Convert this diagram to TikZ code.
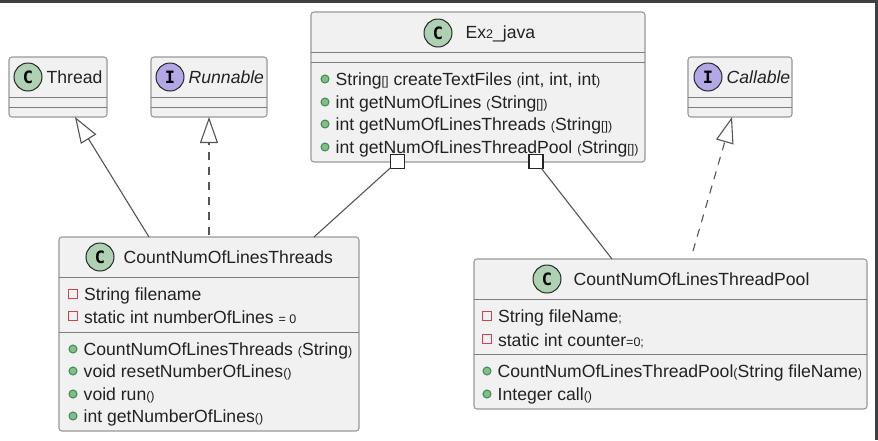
\documentclass[tikz,border=0pt]{standalone}
\usepackage{fontspec}
\setmainfont{Liberation Sans}
\newfontfamily\badgefont{DejaVu Sans Mono}
\usepackage{tikz}
\usetikzlibrary{positioning,arrows.meta}
\definecolor{boxfill}{RGB}{241,241,241}
\definecolor{boxline}{RGB}{153,153,153}
\definecolor{sepline}{RGB}{125,125,125}
\definecolor{edgeline}{RGB}{85,85,85}
\definecolor{txt}{RGB}{34,34,34}
\definecolor{clsfill}{RGB}{173,209,178}
\definecolor{ifcfill}{RGB}{180,167,229}
\definecolor{pubfill}{RGB}{132,190,132}
\definecolor{publine}{RGB}{56,138,86}
\definecolor{prvline}{RGB}{206,66,82}
\definecolor{barcol}{RGB}{60,64,67}
\newcommand{\sm}[1]{{\fontsize{12.5}{12.5}\selectfont #1}}
\begin{document}
\begin{tikzpicture}[x=1pt,y=-1pt,font=\fontsize{17.6}{20}\selectfont,text=txt,node distance=4pt and 6pt,
  cls/.style={draw=boxline,line width=1.1pt,rounded corners=3pt,fill=boxfill,inner sep=0pt,outer sep=0pt,anchor=north west},
  badge/.style={draw=black!85,line width=1pt,circle,minimum size=28pt,inner sep=0pt,font=\fontsize{17}{17}\selectfont\badgefont\bfseries,text=black},
  cbadge/.style={badge,fill=clsfill},
  ibadge/.style={badge,fill=ifcfill},
  pub/.style={draw=publine,fill=pubfill,line width=1pt,circle,minimum size=8pt,inner sep=0pt},
  prv/.style={draw=prvline,fill=boxfill,line width=1.1pt,rectangle,minimum size=8.6pt,inner sep=0pt},
  mem/.style={inner sep=0pt,anchor=west,yshift=-1.5pt},
  ttl/.style={inner sep=0pt,anchor=west,yshift=-0.5pt},
  sep/.style={draw=sepline,line width=1pt},
  sq/.style={draw=black!85,fill=white,line width=1.7pt,rectangle,minimum size=14pt,inner sep=0pt,outer sep=0pt},
  gen/.style={draw=edgeline,line width=1.1pt,-{Triangle[open,fill=white,length=26pt,width=18pt,line width=1.1pt]}},
  real/.style={gen,dash pattern=on 8pt off 7pt},
  comp/.style={draw=edgeline,line width=1.1pt}]
  \fill[white] (0,0) rectangle (878,440);
  \fill[barcol] (0,0) rectangle (878,3);
  \fill[barcol] (875,0) rectangle (878,440);
  % top row
  \node[cls,minimum width=98pt,minimum height=60pt] (thread) at (9,57) {};
  \node[cls,minimum width=116pt,minimum height=60pt] (runnable) at (151,57) {};
  \node[cls,minimum width=334pt,minimum height=150pt] (ex) at (311,12) {};
  \node[cls,minimum width=104pt,minimum height=60pt] (callable) at (688,57) {};
  % bottom row
  \node[cls,minimum width=300pt,minimum height=194pt] (lines) at (59,237) {};
  \node[cls,minimum width=393pt,minimum height=150pt] (pool) at (474,259) {};
  % compartments
  \draw[sep] ([yshift=-40pt]thread.north west)--([yshift=-40pt]thread.north east);
  \draw[sep] ([yshift=-50pt]thread.north west)--([yshift=-50pt]thread.north east);
  \draw[sep] ([yshift=-40pt]runnable.north west)--([yshift=-40pt]runnable.north east);
  \draw[sep] ([yshift=-50pt]runnable.north west)--([yshift=-50pt]runnable.north east);
  \draw[sep] ([yshift=-40pt]ex.north west)--([yshift=-40pt]ex.north east);
  \draw[sep] ([yshift=-50pt]ex.north west)--([yshift=-50pt]ex.north east);
  \draw[sep] ([yshift=-40pt]callable.north west)--([yshift=-40pt]callable.north east);
  \draw[sep] ([yshift=-50pt]callable.north west)--([yshift=-50pt]callable.north east);
  \draw[sep] ([yshift=-40pt]lines.north west)--([yshift=-40pt]lines.north east);
  \draw[sep] ([yshift=-95pt]lines.north west)--([yshift=-95pt]lines.north east);
  \draw[sep] ([yshift=-40pt]pool.north west)--([yshift=-40pt]pool.north east);
  \draw[sep] ([yshift=-95pt]pool.north west)--([yshift=-95pt]pool.north east);
  % titles
  \node[cbadge] (threadc) at (28,77) {C};
  \node[ttl,right=4pt of threadc] (threadt) {Thread};
  \node[ibadge] (runnablec) at (170,77) {I};
  \node[ttl,right=4pt of runnablec] (runnablet) {\textit{Runnable}};
  \node[cbadge] (exc) at (438,33) {C};
  \node[ttl,right=13pt of exc] (ext) {Ex\sm{2}\_java};
  \node[ibadge] (callablec) at (708,77) {I};
  \node[ttl,right=4pt of callablec] (callablet) {\textit{Callable}};
  \node[cbadge] (linesc) at (100,257) {C};
  \node[ttl,right=9pt of linesc] (linest) {CountNumOfLinesThreads};
  \node[cbadge] (poolc) at (547,279) {C};
  \node[ttl,right=12pt of poolc] (poolt) {CountNumOfLinesThreadPool};
  % Ex2_java methods
  \node[pub] (ex1) at (325,79) {};
  \node[mem,right=of ex1] {String\sm{[]} createTextFiles \sm{(}int, int, int\sm{)}};
  \node[pub] (ex2) at (325,102) {};
  \node[mem,right=of ex2] {int getNumOfLines \sm{(}String\sm{[])}};
  \node[pub] (ex3) at (325,124) {};
  \node[mem,right=of ex3] {int getNumOfLinesThreads \sm{(}String\sm{[])}};
  \node[pub] (ex4) at (325,147) {};
  \node[mem,right=of ex4] {int getNumOfLinesThreadPool \sm{(}String\sm{[])}};
  % threads class members
  \node[prv] (li1) at (73,294) {};
  \node[mem,right=of li1] {String filename};
  \node[prv] (li2) at (73,316) {};
  \node[mem,right=of li2] {static int numberOfLines \sm{= 0}};
  \node[pub] (li3) at (73,349) {};
  \node[mem,right=of li3] {CountNumOfLinesThreads \sm{(}String\sm{)}};
  \node[pub] (li4) at (73,371) {};
  \node[mem,right=of li4] {void resetNumberOfLines\sm{()}};
  \node[pub] (li5) at (73,394) {};
  \node[mem,right=of li5] {void run\sm{()}};
  \node[pub] (li6) at (73,416) {};
  \node[mem,right=of li6] {int getNumberOfLines\sm{()}};
  % pool class members
  \node[prv] (po1) at (487,316) {};
  \node[mem,right=of po1] {String fileName\sm{;}};
  \node[prv] (po2) at (487,339) {};
  \node[mem,right=of po2] {static int counter\sm{=0;}};
  \node[pub] (po3) at (487,371) {};
  \node[mem,right=of po3] {CountNumOfLinesThreadPool\sm{(}String fileName\sm{)}};
  \node[pub] (po4) at (487,394) {};
  \node[mem,right=of po4] {Integer call\sm{()}};
  % connectors
  \node[sq] (sqa) at (397.5,161.5) {};
  \node[sq] (sqb) at (536,161.5) {};
  \draw[gen] ([xshift=-60pt]lines.north)--([xshift=17pt]thread.south);
  \draw[real] ([yshift=2pt]lines.north)--(lines.north|-runnable.south);
  \draw[real] ([xshift=22.5pt,yshift=8pt]pool.north)--([xshift=-8pt]callable.south);
  \draw[comp] (sqa)--([xshift=105pt]lines.north);
  \draw[comp] (sqb)--([xshift=-58.5pt]pool.north);
\end{tikzpicture}
\end{document}
